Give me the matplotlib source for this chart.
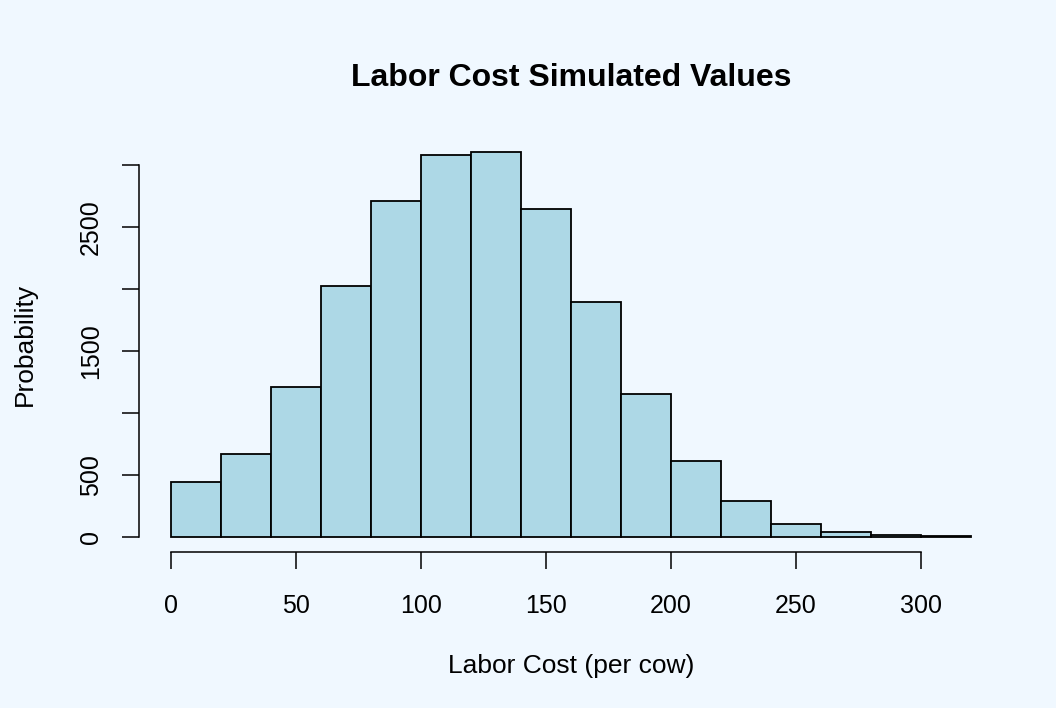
import matplotlib.pyplot as plt
import numpy as np

plt.rcParams['font.family'] = ['Liberation Sans', 'DejaVu Sans']

# bin edges (left) and counts
bin_left = [0, 20, 40, 60, 80, 100, 120, 140, 160, 180, 200, 220, 240, 260, 280, 300]
counts = [442, 670, 1204, 2022, 2706, 3083, 3102, 2641, 1898, 1150, 608, 291, 105, 38, 11, 3]
bin_width = 20

x_ticks = [0, 50, 100, 150, 200, 250, 300]
y_ticks = [0, 500, 1000, 1500, 2000, 2500, 3000]
y_ticklabels = ['0', '500', '', '1500', '', '2500', '']

W, H = 1056, 708
bg = '#F0F8FF'
fig = plt.figure(figsize=(W / 100, H / 100), dpi=100, facecolor=bg)
# plot region in pixels: x 139..1003, y 137..552
ax = fig.add_axes([139 / W, 1 - 552 / H, (1003 - 139) / W, (552 - 137) / H])
ax.set_facecolor(bg)

ax.bar(bin_left, counts, width=bin_width, align='edge', color='#ADD8E6',
       edgecolor='black', linewidth=1.3)

xmax = bin_left[-1] + bin_width
ax.set_xlim(-0.04 * xmax, xmax * 1.04)
ymax = max(counts)
ax.set_ylim(-0.04 * ymax, ymax * 1.04)

for s in ['top', 'right']:
    ax.spines[s].set_visible(False)
ax.spines['bottom'].set_bounds(x_ticks[0], x_ticks[-1])
ax.spines['left'].set_bounds(y_ticks[0], y_ticks[-1])
ax.spines['bottom'].set_linewidth(1.1)
ax.spines['left'].set_linewidth(1.1)

ax.set_xticks(x_ticks)
ax.set_xticklabels([str(t) for t in x_ticks])
ax.set_yticks(y_ticks)
ax.set_yticklabels(y_ticklabels, rotation=90, va='center')
ax.tick_params(axis='both', direction='out', length=12, width=1.1, labelsize=18)
ax.tick_params(axis='x', pad=18)
ax.tick_params(axis='y', pad=14)

ax.set_xlabel('Labor Cost (per cow)', fontsize=19, labelpad=26)
ax.set_ylabel('Probability', fontsize=19, labelpad=30)
ax.set_title('Labor Cost Simulated Values', fontsize=23, fontweight='bold', pad=37)

fig.savefig('out.png', dpi=100, facecolor=bg)
